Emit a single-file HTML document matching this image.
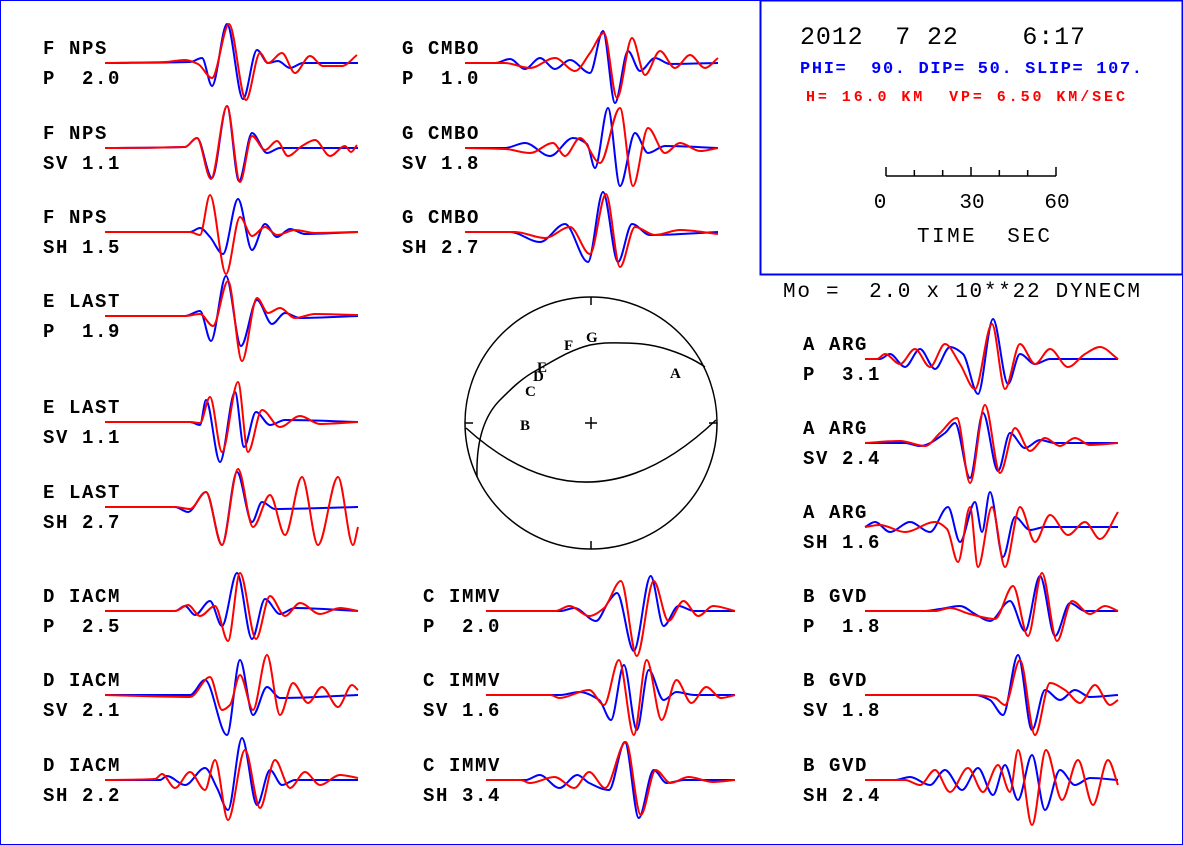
<!DOCTYPE html>
<html><head><meta charset="utf-8">
<style>
html,body{margin:0;padding:0;background:#fff;}
svg{display:block;}
.lab{font-family:"Liberation Mono",monospace;font-weight:bold;font-size:19px;letter-spacing:1.6px;fill:#000;white-space:pre;}
.sta{font-family:"Liberation Serif",serif;font-weight:bold;font-size:15px;fill:#000;}
</style></head>
<body>
<svg id="fig" width="1183" height="845" viewBox="0 0 1183 845" xmlns="http://www.w3.org/2000/svg">
<rect x="0.5" y="0.5" width="1182" height="844" fill="#fff" stroke="#0000ff" stroke-width="1"/>
<g>
<rect x="760.5" y="0.5" width="422" height="274" fill="none" stroke="#0000ff" stroke-width="2"/>
<text x="800" y="44" textLength="285" style="font-family:'Liberation Mono',monospace;font-size:25px;white-space:pre" fill="#000">2012  7 22    6:17</text>
<text x="800" y="73" textLength="342" style="font-family:'Liberation Mono',monospace;font-weight:bold;font-size:17px;white-space:pre" fill="#0000ff">PHI=  90. DIP= 50. SLIP= 107.</text>
<text x="806" y="101" textLength="319" style="font-family:'Liberation Mono',monospace;font-weight:bold;font-size:15px;white-space:pre" fill="#ff0000">H= 16.0 KM  VP= 6.50 KM/SEC</text>
<g id="scalebar" stroke="#000" stroke-width="1.5"></g>
<text x="880" y="208" text-anchor="middle" style="font-family:'Liberation Mono',monospace;font-size:21px">0</text>
<text x="972" y="208" text-anchor="middle" style="font-family:'Liberation Mono',monospace;font-size:21px">30</text>
<text x="1057" y="208" text-anchor="middle" style="font-family:'Liberation Mono',monospace;font-size:21px">60</text>
<text x="917" y="242" textLength="133" style="font-family:'Liberation Mono',monospace;font-size:21px;white-space:pre">TIME  SEC</text>
</g>
<text x="783" y="297" textLength="357" style="font-family:'Liberation Mono',monospace;font-size:21px;white-space:pre">Mo =  2.0 x 10**22 DYNECM</text>
<g fill="none" stroke="#000" stroke-width="1.5">
<circle cx="591" cy="423" r="126"/>
<path d="M591,297v8M591,549v-8M465,423h8M717,423h-8M585,423h12M591,417v12"/>
<path d="M466,428 Q590,540 716,420"/>
<path d="M477,477 C476,440 485,415 500,400 C512,388 522,378 537,370 C555,360 570,350 590,345 C605,342 613,343 623,343 C640,343 652,345 663,348 C680,353 695,360 705,367"/>
</g>
<g>
<text class="sta" x="564" y="350">F</text>
<text class="sta" x="586" y="342">G</text>
<text class="sta" x="537" y="372">E</text>
<text class="sta" x="533" y="381">D</text>
<text class="sta" x="525" y="396">C</text>
<text class="sta" x="670" y="378">A</text>
<text class="sta" x="520" y="430">B</text>
</g>
<g id="traces"></g>
</svg>
<script>
const traceLabels1 = ["F NPS","F NPS","F NPS","E LAST","E LAST","E LAST","D IACM","D IACM","D IACM","G CMBO","G CMBO","G CMBO","C IMMV","C IMMV","C IMMV","A ARG","A ARG","A ARG","B GVD","B GVD","B GVD"];
const traceLabels2 = ["P  2.0","SV 1.1","SH 1.5","P  1.9","SV 1.1","SH 2.7","P  2.5","SV 2.1","SH 2.2","P  1.0","SV 1.8","SH 2.7","P  2.0","SV 1.6","SH 3.4","P  3.1","SV 2.4","SH 1.6","P  1.8","SV 1.8","SH 2.4"];
// observed (blue) knots [time, amplitude]
const observed = [
[[0,0],[85,1],[97,5],[107,-23],[122,39],[138,-36],[152,13],[163,0],[173,2],[185,-5],[198,0],[253,0]],
[[0,0],[80,1],[92,10],[107,-30],[122,42],[134,-33],[147,15],[162,-5],[175,0],[253,0]],
[[0,0],[85,0],[95,4],[105,-5],[118,-22],[133,33],[147,-18],[160,8],[172,-5],[185,3],[200,-2],[253,0]],
[[0,0],[80,0],[95,5],[106,-25],[121,40],[136,-30],[152,16],[167,-8],[180,3],[195,-2],[253,0]],
[[0,0],[85,0],[95,-3],[101,22],[115,-40],[130,30],[139,-25],[151,10],[165,-3],[180,2],[253,0]],
[[0,0],[70,0],[83,-5],[101,15],[117,-38],[132,35],[147,-15],[157,5],[170,-2],[253,0]],
[[0,0],[70,0],[80,5],[90,-4],[105,10],[117,-15],[132,38],[147,-28],[160,12],[175,-3],[190,3],[253,0]],
[[0,0],[85,0],[100,15],[122,-40],[135,35],[148,-20],[162,8],[175,-3],[253,0]],
[[0,0],[55,0],[62,4],[80,-5],[100,12],[112,-8],[123,-30],[137,42],[152,-25],[165,10],[177,-5],[190,0],[253,0]],
[[0,0],[30,0],[45,4],[60,-6],[75,5],[90,-6],[105,3],[125,-10],[138,32],[150,-40],[163,12],[175,-8],[190,5],[205,-1],[253,0]],
[[0,0],[40,0],[60,5],[85,-8],[108,10],[122,4],[130,-20],[143,40],[155,-38],[170,15],[183,-5],[200,2],[253,0]],
[[0,0],[45,0],[75,-10],[100,8],[123,-30],[138,40],[153,-30],[167,8],[185,-3],[253,0]],
[[0,0],[75,0],[89,3],[111,-10],[124,10],[132,18],[149,-40],[166,35],[179,-15],[194,5],[210,0],[251,0]],
[[0,0],[75,0],[94,3],[114,-5],[126,-25],[139,30],[152,-35],[164,25],[179,-5],[192,3],[210,0],[251,0]],
[[0,0],[40,0],[54,5],[74,-8],[92,5],[104,-3],[124,-10],[140,38],[154,-38],[169,10],[182,-3],[200,0],[251,0]],
[[0,0],[15,0],[25,5],[40,-8],[55,10],[70,-10],[85,12],[98,5],[113,-35],[128,40],[143,-25],[155,5],[170,-5],[185,0],[253,0]],
[[0,0],[40,0],[55,-3],[80,10],[90,20],[105,-35],[118,30],[133,-28],[145,10],[160,-5],[175,3],[190,0],[253,0]],
[[0,0],[10,5],[25,-5],[45,5],[65,-5],[83,20],[95,-15],[110,25],[117,-5],[125,35],[138,-30],[150,10],[165,-3],[180,0],[253,0]],
[[0,0],[60,0],[75,2],[95,5],[110,-3],[125,-10],[145,10],[160,-20],[175,35],[190,-25],[205,8],[220,0],[253,0]],
[[0,0],[110,0],[125,-5],[138,-20],[153,40],[167,-35],[180,5],[195,-5],[210,5],[225,-2],[253,0]],
[[0,0],[30,0],[45,3],[65,-5],[80,10],[97,-10],[113,12],[128,-15],[140,15],[153,-20],[167,25],[180,-30],[195,10],[210,-5],[225,2],[253,0]]
];
// synthetic (red) knots [time, amplitude]
const synthetic = [
[[0,0],[60,1],[80,3],[93,-1],[107,-15],[124,39],[141,-37],[155,10],[163,0],[177,10],[190,-10],[205,7],[218,-3],[237,-3],[252,8]],
[[0,0],[80,1],[92,10],[106,-31],[122,42],[135,-34],[147,12],[160,-2],[172,7],[183,-8],[197,2],[210,8],[225,-8],[240,2],[246,-4],[252,3]],
[[0,0],[85,0],[95,-3],[105,37],[121,-42],[135,15],[147,-4],[160,5],[172,-3],[190,2],[210,-1],[253,0]],
[[0,0],[80,0],[95,2],[108,-10],[123,35],[137,-45],[152,18],[163,3],[175,8],[190,-2],[210,2],[253,1]],
[[0,0],[85,0],[95,-1],[105,25],[117,-30],[133,40],[143,-30],[157,12],[175,-5],[195,6],[215,-2],[253,0]],
[[0,0],[70,0],[85,-2],[101,15],[117,-38],[133,38],[148,-20],[165,12],[180,-28],[197,30],[213,-38],[233,30],[248,-38],[253,-20]],
[[0,0],[70,0],[83,6],[95,-5],[110,5],[123,-30],[135,38],[151,-28],[165,15],[180,-5],[195,8],[215,-3],[235,3],[253,0]],
[[0,0],[85,-2],[105,18],[117,-15],[125,-10],[135,20],[148,-15],[162,40],[175,-20],[188,12],[203,-8],[217,8],[233,-12],[247,10],[253,5]],
[[0,0],[50,1],[57,6],[70,-8],[85,8],[100,-10],[110,20],[123,-40],[140,30],[155,-28],[170,20],[185,-8],[200,8],[215,-5],[235,5],[253,2]],
[[0,0],[40,0],[65,-5],[90,5],[110,-8],[125,10],[139,30],[152,-35],[167,25],[180,-12],[195,12],[210,-5],[225,8],[240,-5],[253,5]],
[[0,0],[40,-1],[65,-5],[88,5],[100,-8],[115,10],[135,-15],[155,40],[168,-38],[183,20],[200,-5],[215,5],[235,-3],[253,0]],
[[0,0],[50,0],[80,-6],[105,5],[125,-22],[141,38],[155,-35],[170,5],[190,-3],[215,2],[253,-2]],
[[0,0],[70,0],[84,5],[104,-5],[119,3],[136,30],[152,-45],[169,30],[184,-10],[199,10],[214,-5],[229,5],[251,0]],
[[0,0],[65,0],[74,-3],[104,5],[119,-10],[134,35],[149,-40],[162,35],[177,-25],[192,15],[207,-8],[222,8],[237,-3],[251,0]],
[[0,0],[35,0],[44,-3],[69,3],[89,-8],[104,8],[120,-8],[141,38],[156,-35],[171,10],[186,-3],[204,3],[229,-2],[251,0]],
[[0,0],[12,0],[20,5],[35,-5],[50,10],[65,-8],[80,15],[95,-5],[110,-30],[127,35],[140,-30],[155,15],[170,-5],[185,10],[203,-8],[220,5],[235,12],[253,0]],
[[0,0],[35,2],[60,-3],[75,10],[92,25],[105,-40],[120,38],[135,-30],[150,15],[165,-8],[180,5],[195,-3],[210,5],[225,-2],[253,0]],
[[0,0],[15,2],[40,-5],[70,5],[82,-2],[93,-35],[105,20],[113,-40],[127,20],[140,-40],[155,20],[170,-15],[185,12],[203,-8],[220,5],[235,-12],[253,15]],
[[0,0],[70,0],[85,3],[105,-3],[130,-8],[148,25],[163,-25],[177,38],[192,-30],[207,10],[225,-3],[240,5],[253,0]],
[[0,0],[110,0],[130,-3],[140,-10],[155,35],[170,-40],[185,12],[200,5],[215,-8],[230,10],[245,-10],[253,-5]],
[[0,0],[40,0],[55,-5],[70,10],[85,-12],[103,12],[118,-12],[133,15],[145,-12],[153,30],[167,-45],[181,30],[197,-20],[213,20],[228,-25],[243,20],[253,-5]]
];
const scaleTicks = [0,10,20,30,40,50,60];

const layout = [
[105,253,63,43],[105,253,148,43],[105,253,232,43],[105,253,316,43],[105,253,422,43],[105,253,507,43],[105,253,611,43],[105,253,695,43],[105,253,780,43],
[465,253,63,402],[465,253,148,402],[465,253,232,402],
[486,251,611,423],[486,251,695,423],[486,251,780,423],
[865,253,359,803],[865,253,443,803],[865,253,527,803],[865,253,611,803],[865,253,695,803],[865,253,780,803]
];
const NS="http://www.w3.org/2000/svg";
// monotone cubic (no overshoot between knots)
function smoothPath(pts){
  const n=pts.length, s=[], m=[];
  for(let i=0;i<n-1;i++) s.push((pts[i+1][1]-pts[i][1])/(pts[i+1][0]-pts[i][0]));
  m[0]=s[0]; m[n-1]=s[n-2];
  for(let i=1;i<n-1;i++){
    if(s[i-1]*s[i]<=0) m[i]=0;
    else { const h0=pts[i][0]-pts[i-1][0], h1=pts[i+1][0]-pts[i][0];
      m[i]=3*(h0+h1)/((2*h1+h0)/s[i-1]+(h1+2*h0)/s[i]); }
  }
  let d="M"+pts[0][0].toFixed(1)+","+pts[0][1].toFixed(1);
  for(let i=0;i<n-1;i++){
    const h=(pts[i+1][0]-pts[i][0])/3;
    d+=" C"+(pts[i][0]+h).toFixed(1)+","+(pts[i][1]+m[i]*h).toFixed(1)+" "+(pts[i+1][0]-h).toFixed(1)+","+(pts[i+1][1]-m[i+1]*h).toFixed(1)+" "+pts[i+1][0].toFixed(1)+","+pts[i+1][1].toFixed(1);
  }
  return d;
}
const root=document.getElementById("traces");
for(let k=0;k<layout.length;k++){
  const [x0,w,base,lx]=layout[k];
  const xs=t=>x0+t*(w/253);
  const ys=a=>base-a;
  const g=document.createElementNS(NS,"g");
  
  
  const t1=document.createElementNS(NS,"text");
  t1.setAttribute("class","lab");t1.setAttribute("x",lx);t1.setAttribute("y",base-9);
  t1.textContent=traceLabels1[k];
  
  
  g.appendChild(t1);
  const t2=document.createElementNS(NS,"text");
  t2.setAttribute("class","lab");t2.setAttribute("x",lx);t2.setAttribute("y",base+21);
  t2.textContent=traceLabels2[k];
  
  
  g.appendChild(t2);
  [[observed[k],"#0000ff","observed-trace"],[synthetic[k],"#ff0000","synthetic-trace"]].forEach(([arr,col,nm])=>{
    const p=document.createElementNS(NS,"path");
    p.setAttribute("d",smoothPath(arr.map(q=>[xs(q[0]),ys(q[1])])));
    p.setAttribute("fill","none");p.setAttribute("stroke",col);p.setAttribute("stroke-width","2");
    
    
    g.appendChild(p);
  });
  root.appendChild(g);
}
const sb=document.getElementById("scalebar");
const sx=s=>886+s*(170/60);
let d="M"+sx(0)+",176H"+sx(60);
scaleTicks.forEach(s=>{d+="M"+sx(s)+",176v"+(s%30===0?-9:-6);});
const sp=document.createElementNS(NS,"path");
sp.setAttribute("d",d);


sb.appendChild(sp);
</script>
</body></html>
